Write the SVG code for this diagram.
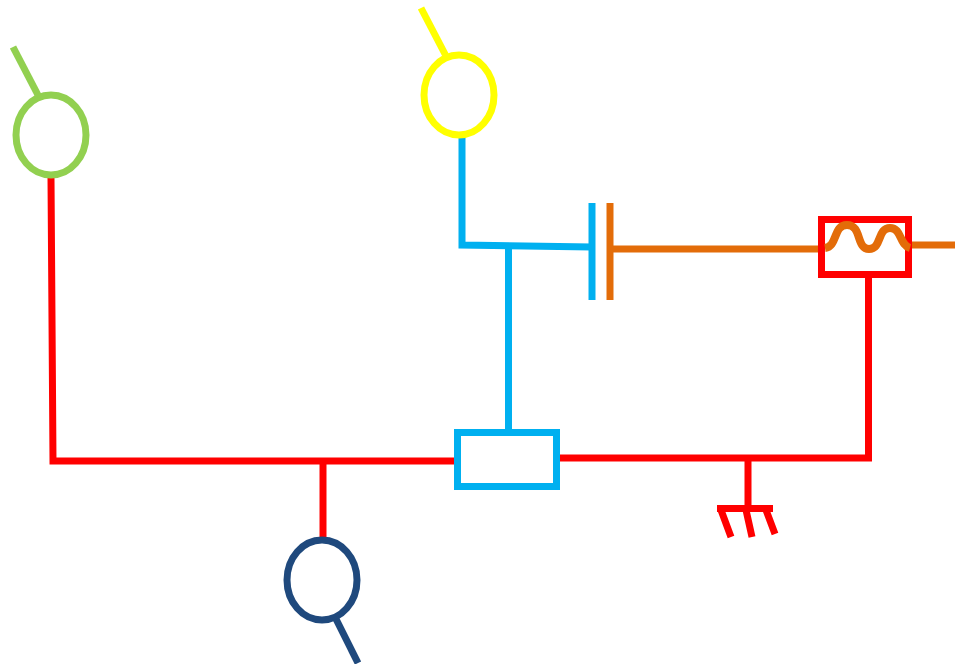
<svg xmlns="http://www.w3.org/2000/svg" width="955" height="664" viewBox="0 0 955 664">
<style>
.l{fill:none;stroke-width:7}
.r{stroke:#ff0000}.b{stroke:#00b0f0}.o{stroke:#e36c09}
</style>
<rect width="955" height="664" fill="#ffffff"/>
<g id="connectors">
<path class="l r" d="M51 178L53 461H457"/>
<path class="l r" d="M323 461V540"/>
<path class="l r" d="M556 458H868.500V276"/>
<path class="l b" d="M462 134V245L592 247"/>
<path class="l b" d="M508.500 246V432"/>
<path class="l o" d="M610 249H820"/>
<path class="l o" d="M912 245H955"/>
</g>
<g id="lamp-green"><ellipse cx="51" cy="135" rx="35" ry="40" fill="none" stroke="#92d050" stroke-width="7"/><path class="l" d="M13 47L39 97" stroke="#92d050"/></g>
<g id="lamp-yellow"><ellipse cx="459" cy="95" rx="35" ry="40" fill="none" stroke="#ffff00" stroke-width="7"/><path class="l" d="M421 8L446 56" stroke="#ffff00"/></g>
<g id="lamp-navy"><ellipse cx="322" cy="580" rx="35" ry="40" fill="none" stroke="#1f497d" stroke-width="7"/><path class="l" d="M335 617L358 663" stroke="#1f497d"/></g>
<g id="capacitor"><path class="l b" d="M592 203V300"/><path class="l o" d="M610 203V300"/></g>
<g id="fuse"><rect class="l r" x="821.500" y="219.500" width="87" height="55"/><path d="M825 248C838 246 833 225 847 225C862 225 856 249 869 249C882 249 877 228 890 228C902 228 899 245 910 248" fill="none" stroke="#e36c09" stroke-width="8"/></g>
<g id="switch-box"><rect class="l b" x="457.500" y="432.500" width="99" height="54"/></g>
<g id="ground"><path class="l r" d="M748 458V508M717 508.500H773M721 510L731 537M746 510L752 537M766 510L775 534"/></g>
</svg>
